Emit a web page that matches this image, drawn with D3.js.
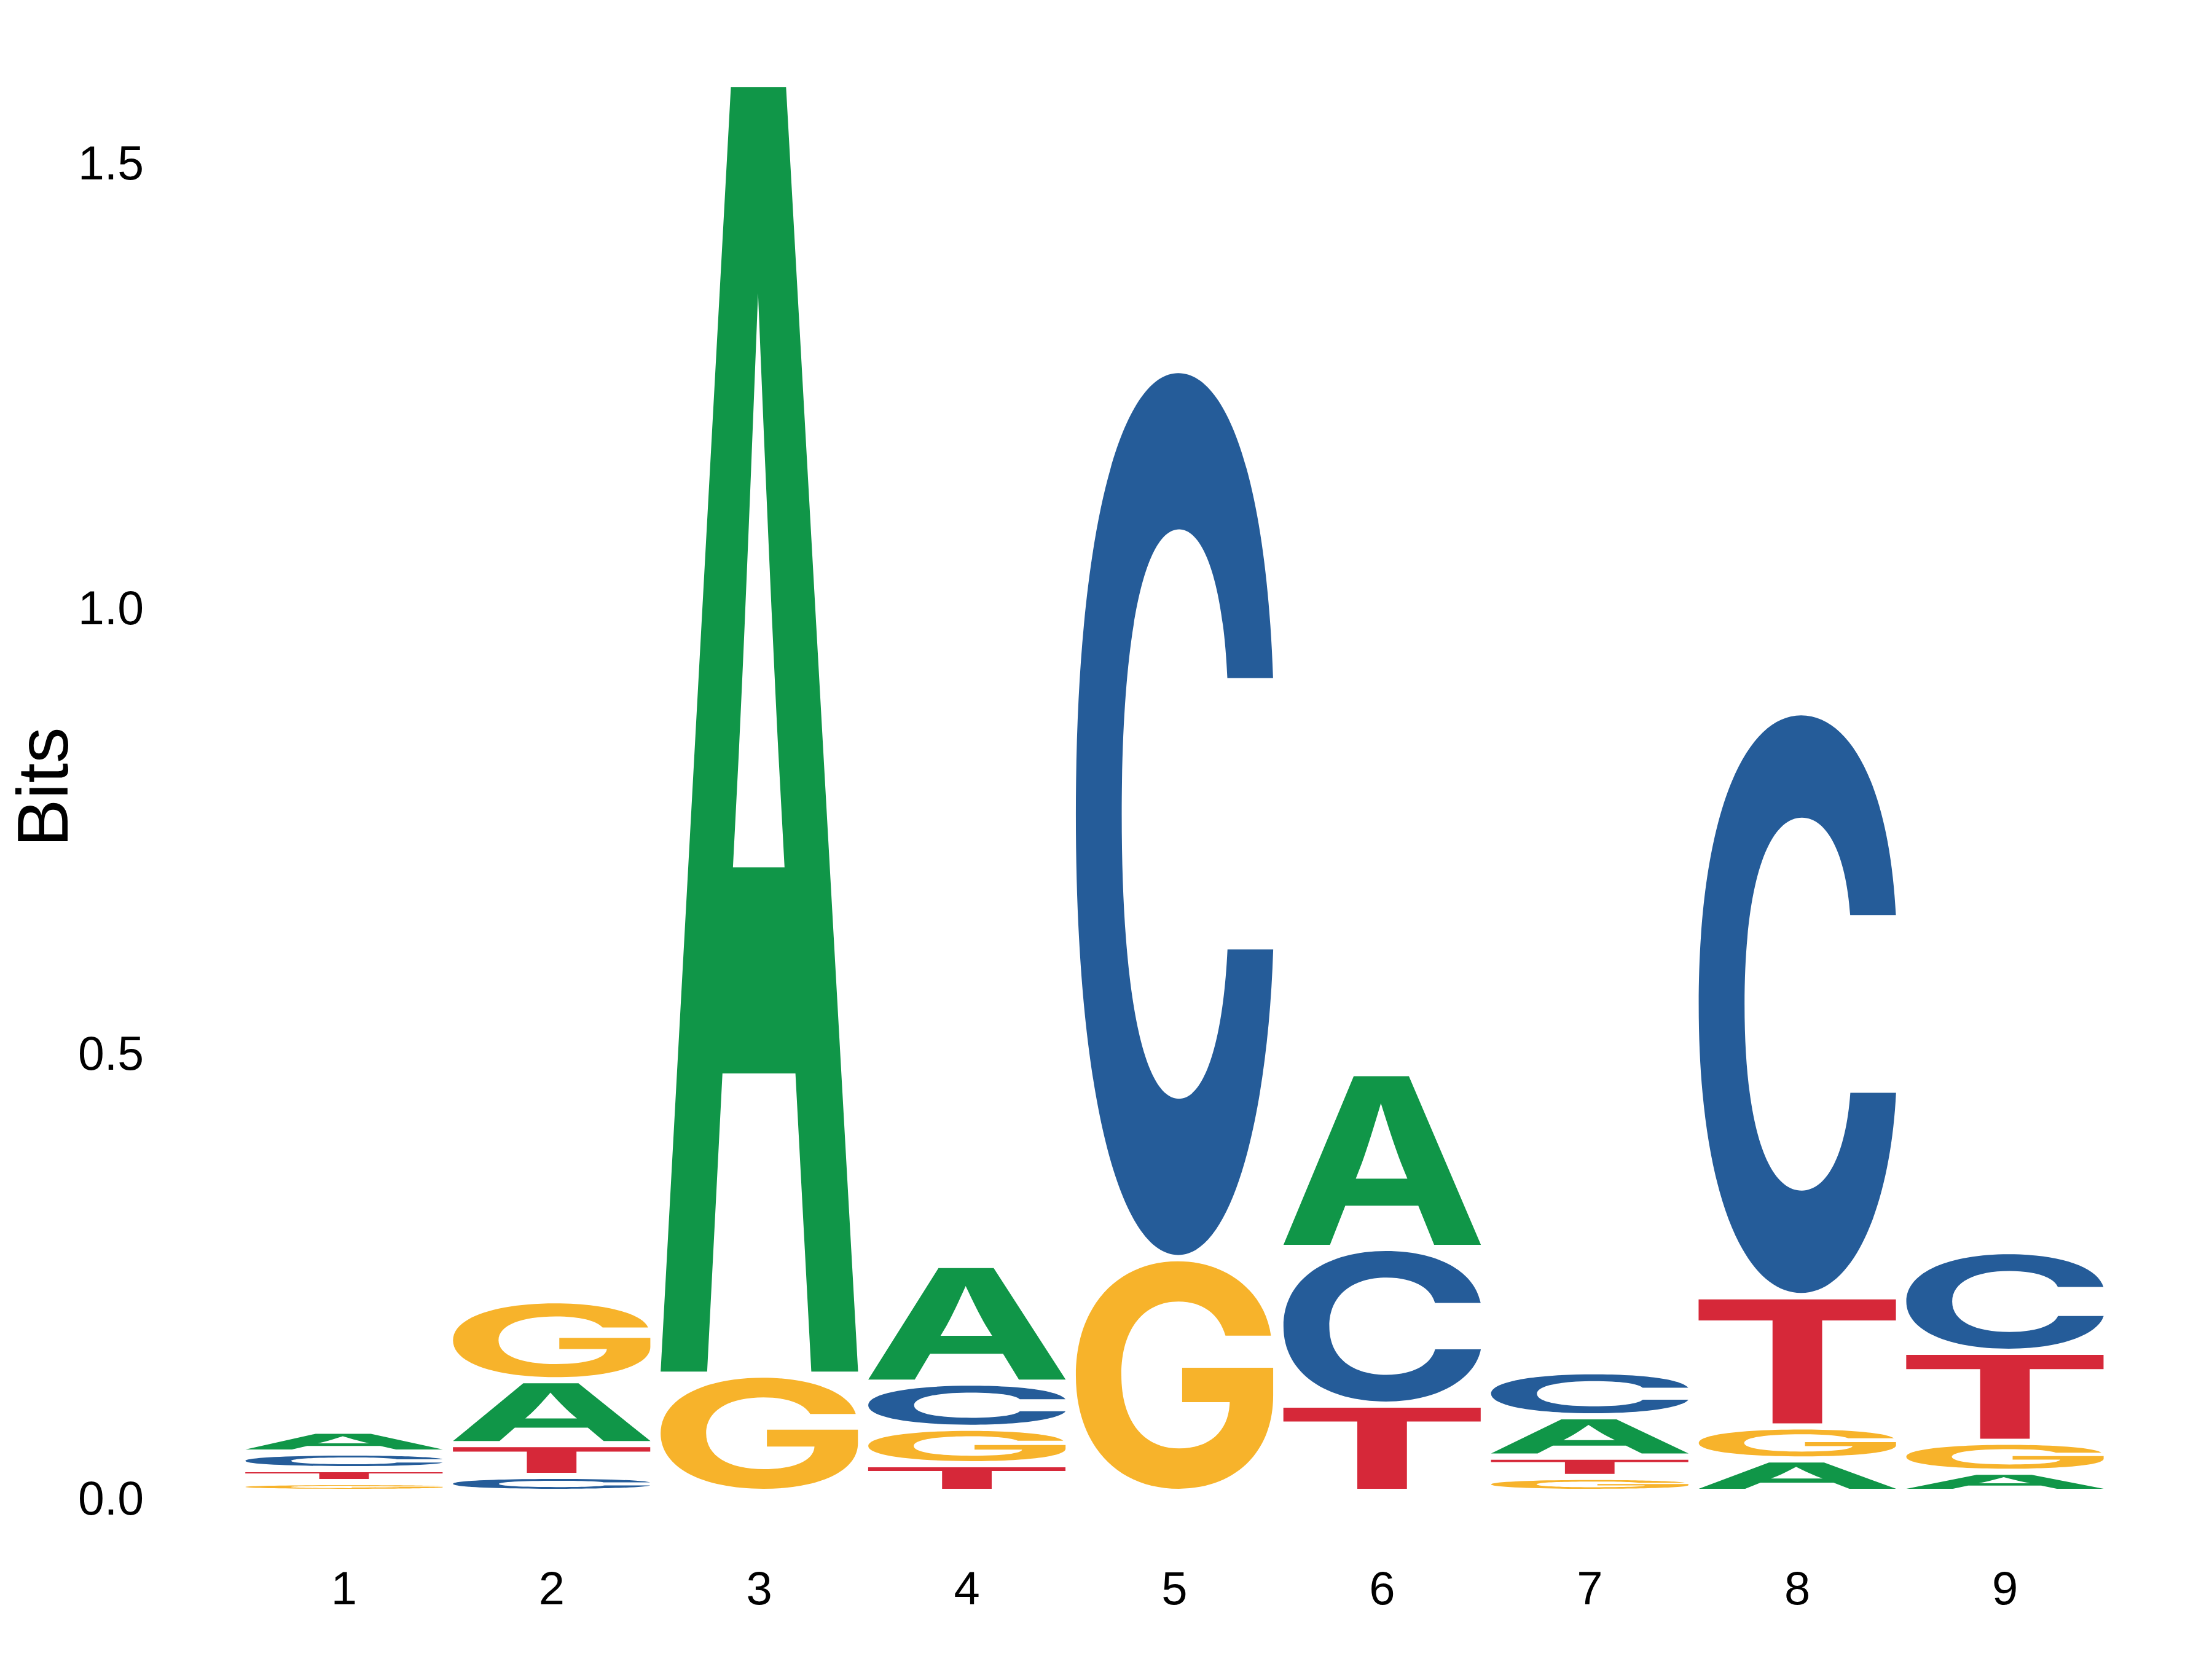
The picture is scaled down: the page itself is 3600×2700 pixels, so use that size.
<!DOCTYPE html>
<html>
<head>
<meta charset="utf-8">
<script src="https://cdn.jsdelivr.net/npm/d3@7"></script>
<style>
  html, body { margin: 0; padding: 0; background: #fff; }
  svg { display: block; }
</style>
</head>
<body>
<script>
// ---- data (bits per base at each position) ----
const positions = [1, 2, 3, 4, 5, 6, 7, 8, 9];
const bitsA = [0.0246, 0.0718, 1.4504, 0.1323, 0.0000, 0.1964, 0.0453, 0.0364, 0.0226];
const bitsC = [0.0186, 0.0179, 0.0000, 0.0506, 0.9973, 0.1760, 0.0506, 0.6556, 0.1129];
const bitsG = [0.0110, 0.0897, 0.1316, 0.0409, 0.2623, 0.0000, 0.0168, 0.0371, 0.0336];
const bitsT = [0.0145, 0.0357, 0.0000, 0.0311, 0.0000, 0.0980, 0.0228, 0.1463, 0.1012];
const bases = ["A", "C", "G", "T"];
const baseColors = ["#109648", "#255C99", "#F7B32B", "#D62839"];
const yTicks = [0.0, 0.5, 1.0, 1.5];
const yTitle = "Bits";

const W = 3600, H = 2700;
const svg = d3.select("body").append("svg")
  .attr("width", W).attr("height", H)
  .attr("viewBox", `0 0 ${W} ${H}`);

const x = d3.scaleBand().domain(positions).range([391, 3432])
  .paddingInner(0.05).paddingOuter(0.025);
const y = d3.scaleLinear().domain([0, 1.5]).range([2437, 263.5]);
const color = d3.scaleOrdinal().domain(bases).range(baseColors);

const LETTER_FAMILY = "Inter";
const LETTER_FONT = "Inter, 'Liberation Sans', Arial, sans-serif";
const TEXT_FONT = "'Liberation Sans', Arial, Helvetica, sans-serif";

// ink bounds of each glyph, found by scanning a rasterised copy
function inkBounds(ch) {
  const S = 1600, ox = 300, oy = 1200;
  const cv = document.createElement("canvas");
  cv.width = S; cv.height = S;
  const ctx = cv.getContext("2d", { willReadFrequently: true });
  ctx.font = `bold 1000px ${LETTER_FAMILY}`;
  ctx.fillStyle = "#000";
  ctx.fillText(ch, ox, oy);
  const data = ctx.getImageData(0, 0, S, S).data;
  let minX = S, maxX = -1, minY = S, maxY = -1;
  for (let yy = 0; yy < S; yy++) {
    for (let xx = 0; xx < S; xx++) {
      if (data[(yy * S + xx) * 4 + 3] > 127) {
        if (xx < minX) minX = xx;
        if (xx > maxX) maxX = xx;
        if (yy < minY) minY = yy;
        if (yy > maxY) maxY = yy;
      }
    }
  }
  return { L: ox - minX, R: maxX + 1 - ox, A: oy - minY, D: maxY + 1 - oy };
}
const metrics = {};
bases.forEach(b => { metrics[b] = inkBounds(b); });

// build stacked letters
const seriesBits = { A: bitsA, C: bitsC, G: bitsG, T: bitsT };
const letters = [];
positions.forEach((p, i) => {
  const col = bases.map(b => ({ base: b, bits: seriesBits[b][i] }))
    .filter(d => d.bits > 0)
    .sort((a, b) => a.bits - b.bits);
  let cum = 0;
  col.forEach(d => {
    letters.push({ pos: p, base: d.base, y0: cum, y1: cum + d.bits });
    cum += d.bits;
  });
});

const baseOffset = 9;  // stack starts slightly above the zero line
const pad = 5;         // vertical gap half-size between stacked glyphs

const gL = svg.append("g").attr("class", "letters");
letters.forEach(d => {
  const top = y(d.y1) - baseOffset + pad;
  const bot = y(d.y0) - baseOffset - pad;
  const h = bot - top;
  if (h <= 0.5) return;
  const left = x(d.pos);
  const w = x.bandwidth();
  const m = metrics[d.base];
  const sx = w / (m.L + m.R);
  const sy = h / (m.A + m.D);
  gL.append("text")
    .attr("x", 0).attr("y", 0)
    .attr("transform", `translate(${left},${top}) scale(${sx},${sy}) translate(${m.L},${m.A})`)
    .attr("font-family", LETTER_FONT)
    .attr("font-weight", "bold")
    .attr("font-size", 1000)
    .attr("fill", color(d.base))
    .text(d.base);
});

// y axis labels (no lines)
const yAxis = d3.axisLeft(y).tickValues(yTicks).tickFormat(d3.format(".1f")).tickSize(0).tickPadding(0);
const gy = svg.append("g").attr("transform", "translate(234,0)").call(yAxis);
gy.select(".domain").remove();
gy.selectAll("text")
  .attr("font-family", TEXT_FONT)
  .attr("font-size", 77)
  .attr("fill", "#000")
  .attr("dy", "0.36em");

// x axis labels
const xAxis = d3.axisBottom(x).tickSize(0).tickPadding(0);
const gx = svg.append("g").attr("transform", "translate(0,2611)").call(xAxis);
gx.select(".domain").remove();
gx.selectAll("text")
  .attr("font-family", TEXT_FONT)
  .attr("font-size", 76)
  .attr("fill", "#000")
  .attr("dy", 0);

// y title
svg.append("text")
  .attr("transform", "translate(110,1281) rotate(-90)")
  .attr("text-anchor", "middle")
  .attr("font-family", TEXT_FONT)
  .attr("font-size", 117)
  .attr("fill", "#000")
  .text(yTitle);
</script>
</body>
</html>
